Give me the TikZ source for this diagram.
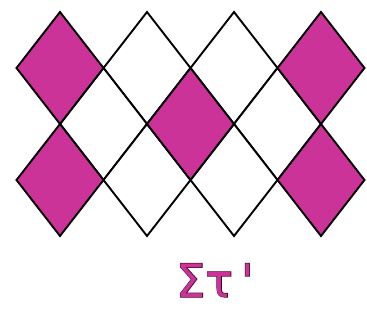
\documentclass[tikz,border=0pt]{standalone}
\usepackage{fontspec}
\newfontfamily\symfont{DejaVu Sans}
\newfontfamily\symfontbold[FakeBold=2.5]{DejaVu Sans}
\definecolor{mag}{RGB}{204,51,153}
\definecolor{edge}{RGB}{60,10,40}
\begin{document}
\begin{tikzpicture}[x=1pt,y=-1pt,
  tile/.style={draw=black,line width=1.9pt,line join=miter},
  pink/.style={tile,fill=mag},
  plain/.style={tile,fill=white},
  lab/.style={anchor=base,inner sep=0pt,font=\fontsize{46}{46}\selectfont}]
\useasboundingbox (0,0) rectangle (367,321);
\newcommand{\dmd}[3]{\path[#1] (#2,#3-56) -- (#2+43.5,#3) -- (#2,#3+56) -- (#2-43.5,#3) -- cycle;}
% white tiles
\dmd{plain}{147}{68}
\dmd{plain}{234}{68}
\dmd{plain}{103.5}{124}
\dmd{plain}{277.5}{124}
\dmd{plain}{147}{180}
\dmd{plain}{234}{180}
% magenta tiles
\dmd{pink}{60}{68}
\dmd{pink}{321}{68}
\dmd{pink}{190.5}{124}
\dmd{pink}{60}{180}
\dmd{pink}{321}{180}
\node[lab,text=edge] (lblshadow) at (215,297) {\symfontbold Στ\hspace{8pt}'};
\node[lab,text=mag] (lbl) at (215,297) {\symfont Στ\hspace{8pt}'};
\end{tikzpicture}
\end{document}
